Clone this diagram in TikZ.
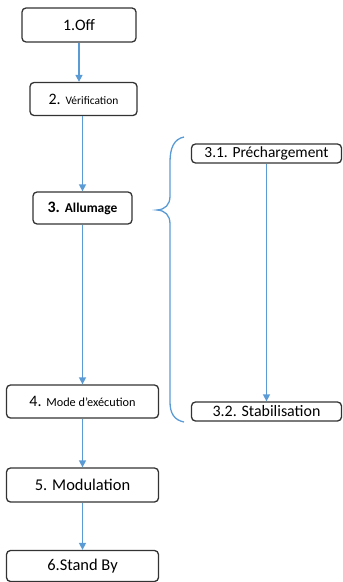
\documentclass[tikz,border=0pt]{standalone}
\usepackage{fontspec}
\setmainfont{Carlito}
\usetikzlibrary{arrows.meta}
\definecolor{boxline}{HTML}{333333}
\definecolor{flowblue}{HTML}{5B9BD5}
\newcommand{\fs}[1]{\fontsize{#1}{#1}\selectfont}
\begin{document}
\begin{tikzpicture}[x=1bp,y=-1bp,
  stepbox/.style={draw=boxline,line width=1.3bp,rounded corners=4bp,fill=white,
    inner sep=0pt,text=black},
  flow/.style={draw=flowblue,line width=1.5bp,-{Triangle[width=7bp,length=7bp]}},
  brace/.style={draw=flowblue,line width=1.3bp}]
\useasboundingbox (0,0) rectangle (342,582);

% main sequence
\node[stepbox,minimum width=114bp,minimum height=34bp] (b1) at (79,25) {\fs{16}1.Off};
\node[stepbox,minimum width=107bp,minimum height=33bp] (b2) at (83.5,99) {\fs{16}2. {\fs{11.5}Vérification}};
\node[stepbox,minimum width=99bp,minimum height=32bp] (b3) at (82.5,208) {\bfseries\fs{16}3. {\fs{13.5}Allumage}};
\node[stepbox,minimum width=152bp,minimum height=33bp] (b4) at (82.5,401.5) {\fs{16}4. {\fs{12.3}Mode d’exécution}};
\node[stepbox,minimum width=152bp,minimum height=34bp] (b5) at (82.5,485) {\fs{16.5}5. Modulation};
\node[stepbox,minimum width=152bp,minimum height=31bp] (b6) at (82.5,566) {\fs{16.5}6.Stand By};

% sub-steps of the power-up phase
\node[stepbox,minimum width=150bp,minimum height=19bp] (b31) at (266.5,153.5) {\fs{15.5}3.1. Préchargement};
\node[stepbox,minimum width=150bp,minimum height=19bp] (b32) at (266.5,411.5) {\fs{16}3.2. Stabilisation};

% connectors
\draw[flow] (b1.south) -- (b1.south |- b2.north);
\draw[flow] (b3.north |- b2.south) -- (b3.north);
\draw[flow] (b3.south) -- (b3.south |- b4.north);
\draw[flow] (b4.south) -- (b5.north);
\draw[flow] (b5.south) -- (b6.north);
\draw[flow] (b31.south) -- (b31.south |- b32.north);

% brace grouping the sub-steps
\draw[brace] (184,137) .. controls (174,139) and (170,148) .. (170,162)
  -- (170,196) .. controls (170,205) and (165,209.5) .. (157,210)
  .. controls (165,210.5) and (170,215) .. (170,224)
  -- (170,402) .. controls (170,413) and (174,420) .. (184,422);
\end{tikzpicture}
\end{document}
